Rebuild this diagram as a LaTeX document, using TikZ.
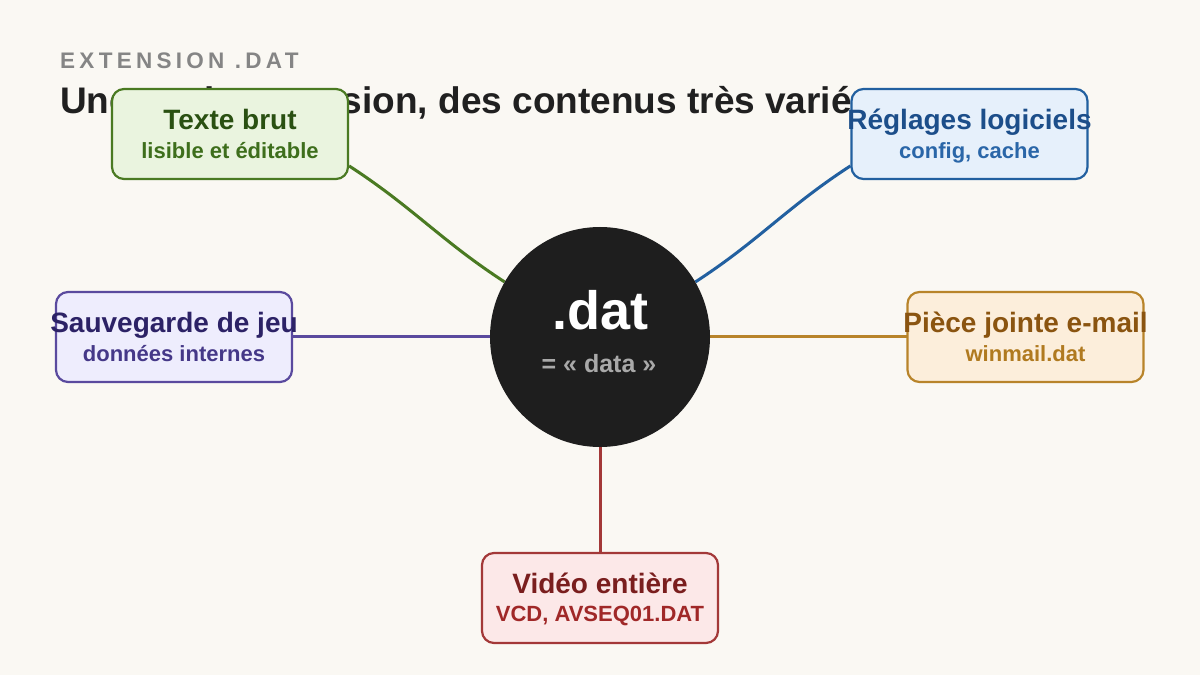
\documentclass[tikz,border=0pt]{standalone}
\usepackage{fontspec}
\setmainfont{Liberation Sans}
\newfontfamily\spacedfont[LetterSpace=19]{Liberation Sans}
\usetikzlibrary{backgrounds}
\definecolor{bgc}{HTML}{FAF8F3}
\definecolor{kickc}{HTML}{858585}
\definecolor{titlec}{HTML}{202020}
\definecolor{discc}{HTML}{1E1E1E}
\definecolor{datac}{HTML}{A9A9A9}
% green
\definecolor{gfill}{HTML}{EAF4DF}
\definecolor{gline}{HTML}{4A7A22}
\definecolor{gtit}{HTML}{2A5012}
\definecolor{gsub}{HTML}{3E6E1C}
% blue
\definecolor{bfill}{HTML}{E6F0FB}
\definecolor{bline}{HTML}{2260A0}
\definecolor{btit}{HTML}{1C4E8A}
\definecolor{bsub}{HTML}{2A66A8}
% purple
\definecolor{pfill}{HTML}{EEEDFD}
\definecolor{pline}{HTML}{5A4A9E}
\definecolor{ptit}{HTML}{2C2266}
\definecolor{psub}{HTML}{453888}
% orange
\definecolor{ofill}{HTML}{FCEEDB}
\definecolor{oline}{HTML}{B8842A}
\definecolor{otit}{HTML}{8A5410}
\definecolor{osub}{HTML}{B07A20}
% red
\definecolor{rfill}{HTML}{FCE8E8}
\definecolor{rline}{HTML}{A33838}
\definecolor{rtit}{HTML}{7A1E1E}
\definecolor{rsub}{HTML}{A02828}
\begin{document}
\begin{tikzpicture}[x=1pt,y=1pt,
  catbox/.style={draw, rounded corners=12pt, line width=2.2pt, minimum width=236pt, minimum height=90pt, inner sep=0pt},
  ttl/.style={font=\bfseries\fontsize{28}{30}\selectfont, anchor=base, inner sep=0pt},
  subt/.style={font=\bfseries\fontsize{22}{24}\selectfont, anchor=base, inner sep=0pt},
  link/.style={line width=3pt}]
\useasboundingbox (0,0) rectangle (1200,675);
\begin{scope}[on background layer]
  \fill[bgc] (0,0) rectangle (1200,675);
\end{scope}
% header
\node[anchor=base west, inner sep=0pt, text=kickc, font=\spacedfont\bfseries\fontsize{22.5}{24}\selectfont] (kick) at (60,606) {EXTENSION .DAT};
\node[anchor=base west, inner sep=0pt, text=titlec, font=\bfseries\fontsize{37}{40}\selectfont] (title) at (60,561) {Une seule extension, des contenus très variés};
% central disc
\node[circle, fill=discc, minimum size=220pt, inner sep=0pt] (dat) at (600,338) {};
\node[anchor=base, inner sep=0pt, text=white, font=\bfseries\fontsize{54}{56}\selectfont] (datl) at (600,345) {.dat};
\node[anchor=base, inner sep=0pt, text=datac, font=\bfseries\fontsize{25}{27}\selectfont] (datsub) at (599,302) {= «~data~»};
% boxes
\node[catbox, fill=gfill, draw=gline] (gbox) at (230,541) {};
\node[ttl, text=gtit] (gt) at (230,545) {Texte brut};
\node[subt, text=gsub] (gs) at (230,516) {lisible et éditable};

\node[catbox, fill=bfill, draw=bline] (bbox) at (969.5,541) {};
\node[ttl, text=btit] (bt) at (969.5,545) {Réglages logiciels};
\node[subt, text=bsub] (bs) at (969.5,516) {config, cache};

\node[catbox, fill=pfill, draw=pline] (pbox) at (174,338) {};
\node[ttl, text=ptit] (pt) at (174,342) {Sauvegarde de jeu};
\node[subt, text=psub] (ps) at (174,313) {données internes};

\node[catbox, fill=ofill, draw=oline] (obox) at (1025.5,338) {};
\node[ttl, text=otit] (ot) at (1025.5,342) {Pièce jointe e-mail};
\node[subt, text=osub] (os) at (1025.5,313) {winmail.dat};

\node[catbox, fill=rfill, draw=rline] (rbox) at (600,77) {};
\node[ttl, text=rtit] (rt) at (600,81) {Vidéo entière};
\node[subt, text=rsub] (rs) at (600,53) {VCD, AVSEQ01.DAT};
% connectors
\begin{scope}[on background layer]
  \draw[link, gline] (gbox.-15) to[out=-33, in=147] (dat.150);
  \draw[link, bline] (bbox.195) to[out=-147, in=33] (dat.30);
  \draw[link, pline] (pbox.center) -- (dat.center);
  \draw[link, oline] (obox.center) -- (dat.center);
  \draw[link, rline] (rbox.center) -- (dat.center);
\end{scope}
\end{tikzpicture}
\end{document}
